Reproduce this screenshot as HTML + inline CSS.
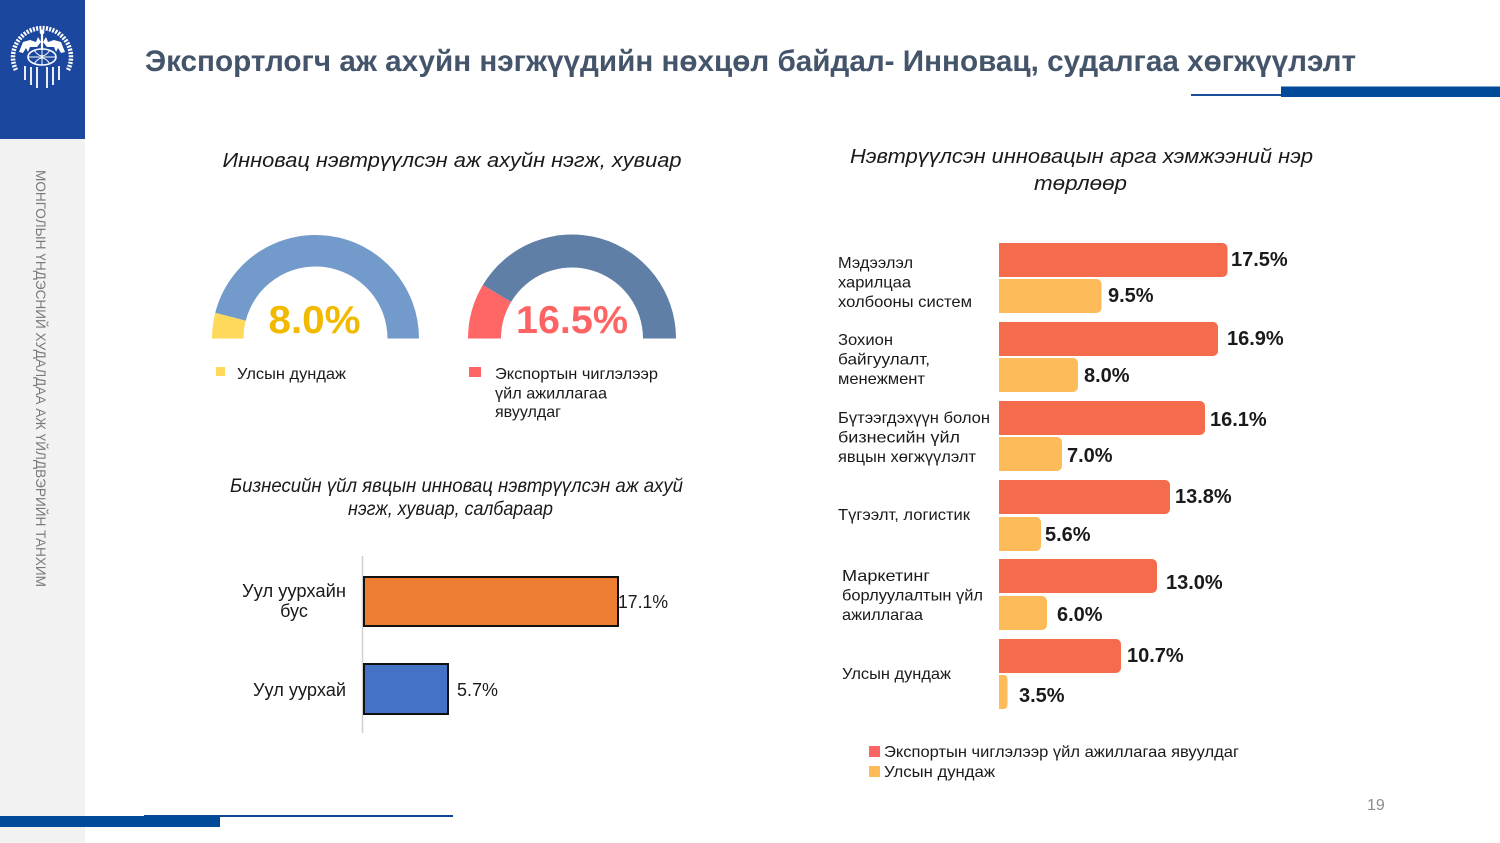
<!DOCTYPE html>
<html>
<head>
<meta charset="utf-8">
<style>
  html,body{margin:0;padding:0;background:#fff;}
  svg{display:block;}
  text{font-family:"Liberation Sans","DejaVu Sans",sans-serif;}
</style>
</head>
<body>
<svg width="1500" height="843" viewBox="0 0 1500 843" xmlns="http://www.w3.org/2000/svg">
  <rect x="0" y="0" width="1500" height="843" fill="#ffffff"/>

  <!-- Sidebar -->
  <rect x="0" y="139" width="85" height="704" fill="#f2f2f2"/>
  <rect x="0" y="0" width="85" height="139" fill="#1b479e"/>

  <!-- Logo emblem (approximation) -->
  <g fill="none" stroke="#ffffff">
    <path d="M16,70 A29,29 0 1 1 68,70" stroke-width="4.5" stroke-dasharray="2 1.3"/>
    <ellipse cx="42" cy="57" rx="14" ry="8" stroke-width="1.6"/>
    <line x1="28" y1="57" x2="56" y2="57" stroke-width="1"/>
    <line x1="42" y1="49" x2="42" y2="65" stroke-width="1"/>
    <path d="M34,50 Q42,62 50,50" stroke-width="1"/>
    <path d="M34,64 Q42,52 50,64" stroke-width="1"/>
    <line x1="42" y1="30" x2="42" y2="50" stroke-width="2.2"/>
    <g stroke-width="1.8">
      <line x1="25" y1="66" x2="25" y2="80"/>
      <line x1="31" y1="67" x2="31" y2="85"/>
      <line x1="37" y1="67" x2="37" y2="88"/>
      <line x1="47" y1="67" x2="47" y2="88"/>
      <line x1="53" y1="67" x2="53" y2="85"/>
      <line x1="59" y1="66" x2="59" y2="80"/>
    </g>
  </g>
  <g fill="#ffffff">
    <path d="M19,52 L23,42 L30,40 L36,42 L38,37 L41,42 L37,47 L30,47 L28,52 L26,48 L23,53 Z"/>
    <path d="M65,52 L61,42 L54,40 L48,42 L46,37 L43,42 L47,47 L54,47 L56,52 L58,48 L61,53 Z"/>
    <circle cx="42" cy="32" r="2.4"/>
  </g>

  <!-- Vertical sidebar text -->
  <text transform="translate(36,170) rotate(90)" font-size="14" fill="#7a7a7a" textLength="417" lengthAdjust="spacingAndGlyphs">МОНГОЛЫН ҮНДЭСНИЙ ХУДАЛДАА АЖ ҮЙЛДВЭРИЙН ТАНХИМ</text>

  <!-- Main title -->
  <text x="145" y="71" font-size="30" font-weight="bold" fill="#44546a" textLength="1211" lengthAdjust="spacingAndGlyphs">Экспортлогч аж ахуйн нэгжүүдийн нөхцөл байдал- Инновац, судалгаа хөгжүүлэлт</text>

  <!-- Top right decoration -->
  <rect x="1191" y="94" width="92" height="2" fill="#1b4f9c"/>
  <rect x="1281" y="86.5" width="219" height="10.5" fill="#004a99"/>

  <!-- Bottom decoration -->
  <rect x="144" y="815" width="309" height="2" fill="#0a4795"/>
  <rect x="0" y="816" width="220" height="11" fill="#004a99"/>

  <!-- Chart 1 title -->
  <text x="222.5" y="167" font-size="20.5" font-style="italic" fill="#1a1a1a" textLength="459" lengthAdjust="spacingAndGlyphs">Инновац нэвтрүүлсэн аж ахуйн нэгж, хувиар</text>

  <!-- Left gauge -->
  <path d="M212,338.5 A103.5,103.5 0 0 1 215.25,312.76 L245.76,320.59 A72,72 0 0 0 243.5,338.5 Z" fill="#fed95b"/>
  <path d="M215.25,312.76 A103.5,103.5 0 0 1 419,338.5 L387.5,338.5 A72,72 0 0 0 245.76,320.59 Z" fill="#729acb"/>
  <text x="268.5" y="333" font-size="39" font-weight="bold" fill="#f1b900" textLength="92" lengthAdjust="spacingAndGlyphs">8.0%</text>

  <!-- Right gauge -->
  <path d="M468,338.5 A104,104 0 0 1 482.85,284.94 L511.14,301.93 A71,71 0 0 0 501,338.5 Z" fill="#ff6666"/>
  <path d="M482.85,284.94 A104,104 0 0 1 676,338.5 L643,338.5 A71,71 0 0 0 511.14,301.93 Z" fill="#5f7fa6"/>
  <text x="516" y="333" font-size="39" font-weight="bold" fill="#fe6464" textLength="112" lengthAdjust="spacingAndGlyphs">16.5%</text>

  <!-- Gauge legends -->
  <rect x="216" y="367" width="9" height="9" fill="#fed95b"/>
  <text x="237" y="379" font-size="16" fill="#1a1a1a" textLength="109" lengthAdjust="spacingAndGlyphs">Улсын дундаж</text>
  <rect x="469" y="367" width="12" height="10" fill="#ff6464"/>
  <text x="495" y="379" font-size="16" fill="#1a1a1a" textLength="163" lengthAdjust="spacingAndGlyphs">Экспортын чиглэлээр</text>
  <text x="495" y="398.5" font-size="16" fill="#1a1a1a" textLength="112" lengthAdjust="spacingAndGlyphs">үйл ажиллагаа</text>
  <text x="495" y="417" font-size="16" fill="#1a1a1a" textLength="66" lengthAdjust="spacingAndGlyphs">явуулдаг</text>

  <!-- Chart 2 title -->
  <text x="230" y="492" font-size="19" font-style="italic" fill="#1a1a1a" textLength="453" lengthAdjust="spacingAndGlyphs">Бизнесийн үйл явцын инновац нэвтрүүлсэн аж ахуй</text>
  <text x="348" y="515" font-size="19" font-style="italic" fill="#1a1a1a" textLength="205" lengthAdjust="spacingAndGlyphs">нэгж, хувиар, салбараар</text>

  <!-- Chart 2 bars -->
  <line x1="362.5" y1="556" x2="362.5" y2="733" stroke="#d0d0d0" stroke-width="1.5"/>
  <rect x="364" y="577" width="254" height="49" fill="#ed7d31" stroke="#111" stroke-width="2"/>
  <rect x="364" y="664" width="84" height="50" fill="#4472c4" stroke="#111" stroke-width="2"/>
  <text x="294" y="597" font-size="18" fill="#1a1a1a" text-anchor="middle" textLength="104" lengthAdjust="spacingAndGlyphs">Уул уурхайн</text>
  <text x="294" y="617" font-size="18" fill="#1a1a1a" text-anchor="middle">бус</text>
  <text x="346" y="696" font-size="18" fill="#1a1a1a" text-anchor="end" textLength="93" lengthAdjust="spacingAndGlyphs">Уул уурхай</text>
  <text x="618" y="608" font-size="18" fill="#1a1a1a" textLength="50" lengthAdjust="spacingAndGlyphs">17.1%</text>
  <text x="457" y="696" font-size="18" fill="#1a1a1a" textLength="41" lengthAdjust="spacingAndGlyphs">5.7%</text>

  <!-- Right chart title -->
  <text x="850" y="163" font-size="20.5" font-style="italic" fill="#1a1a1a" textLength="463" lengthAdjust="spacingAndGlyphs">Нэвтрүүлсэн инновацын арга хэмжээний нэр</text>
  <text x="1034" y="190" font-size="20.5" font-style="italic" fill="#1a1a1a" textLength="93" lengthAdjust="spacingAndGlyphs">төрлөөр</text>

  <!-- Right chart bars -->
  <g fill="#f46c4b">
    <rect x="999" y="243" width="228.5" height="34" rx="5"/><rect x="999" y="243" width="10" height="34"/>
    <rect x="999" y="322" width="219" height="34" rx="5"/><rect x="999" y="322" width="10" height="34"/>
    <rect x="999" y="401" width="206" height="34" rx="5"/><rect x="999" y="401" width="10" height="34"/>
    <rect x="999" y="480" width="171" height="34" rx="5"/><rect x="999" y="480" width="10" height="34"/>
    <rect x="999" y="559" width="158" height="34" rx="5"/><rect x="999" y="559" width="10" height="34"/>
    <rect x="999" y="639" width="122" height="34" rx="5"/><rect x="999" y="639" width="10" height="34"/>
  </g>
  <g fill="#fdbb59">
    <rect x="999" y="279" width="102.5" height="34" rx="5"/><rect x="999" y="279" width="10" height="34"/>
    <rect x="999" y="358" width="79" height="34" rx="5"/><rect x="999" y="358" width="10" height="34"/>
    <rect x="999" y="437" width="63" height="34" rx="5"/><rect x="999" y="437" width="10" height="34"/>
    <rect x="999" y="517" width="42" height="34" rx="5"/><rect x="999" y="517" width="10" height="34"/>
    <rect x="999" y="596" width="48" height="34" rx="5"/><rect x="999" y="596" width="10" height="34"/>
    <rect x="999" y="675" width="8.5" height="34" rx="4"/><rect x="999" y="675" width="4" height="34"/>
  </g>

  <!-- Right chart value labels -->
  <g font-size="20" font-weight="bold" fill="#1a1a1a">
    <text x="1231" y="266">17.5%</text>
    <text x="1108" y="302">9.5%</text>
    <text x="1227" y="345">16.9%</text>
    <text x="1084" y="382">8.0%</text>
    <text x="1210" y="426">16.1%</text>
    <text x="1067" y="462">7.0%</text>
    <text x="1175" y="503">13.8%</text>
    <text x="1045" y="541">5.6%</text>
    <text x="1166" y="589">13.0%</text>
    <text x="1057" y="621">6.0%</text>
    <text x="1127" y="662">10.7%</text>
    <text x="1019" y="702">3.5%</text>
  </g>

  <!-- Right chart category labels -->
  <g font-size="16" fill="#1a1a1a">
    <text x="838" y="268" textLength="75" lengthAdjust="spacingAndGlyphs">Мэдээлэл</text>
    <text x="838" y="287.5" textLength="73" lengthAdjust="spacingAndGlyphs">харилцаа</text>
    <text x="838" y="307" textLength="134" lengthAdjust="spacingAndGlyphs">холбооны систем</text>
    <text x="838" y="345" textLength="55" lengthAdjust="spacingAndGlyphs">Зохион</text>
    <text x="838" y="364.5" textLength="92" lengthAdjust="spacingAndGlyphs">байгуулалт,</text>
    <text x="838" y="384" textLength="87" lengthAdjust="spacingAndGlyphs">менежмент</text>
    <text x="838" y="423" textLength="152" lengthAdjust="spacingAndGlyphs">Бүтээгдэхүүн болон</text>
    <text x="838" y="442.5" textLength="122" lengthAdjust="spacingAndGlyphs">бизнесийн үйл</text>
    <text x="838" y="462" textLength="138" lengthAdjust="spacingAndGlyphs">явцын хөгжүүлэлт</text>
    <text x="838" y="520" textLength="132" lengthAdjust="spacingAndGlyphs">Түгээлт, логистик</text>
    <text x="842" y="581" textLength="88" lengthAdjust="spacingAndGlyphs">Маркетинг</text>
    <text x="842" y="600.5" textLength="141" lengthAdjust="spacingAndGlyphs">борлуулалтын үйл</text>
    <text x="842" y="620" textLength="81" lengthAdjust="spacingAndGlyphs">ажиллагаа</text>
    <text x="842" y="679" textLength="109" lengthAdjust="spacingAndGlyphs">Улсын дундаж</text>
  </g>

  <!-- Right chart legend -->
  <rect x="869" y="746" width="11" height="11" fill="#ff6464"/>
  <text x="884" y="757" font-size="16" fill="#1a1a1a" textLength="355" lengthAdjust="spacingAndGlyphs">Экспортын чиглэлээр үйл ажиллагаа явуулдаг</text>
  <rect x="869" y="766" width="11" height="11" fill="#ffbb55"/>
  <text x="884" y="777" font-size="16" fill="#1a1a1a" textLength="111" lengthAdjust="spacingAndGlyphs">Улсын дундаж</text>

  <!-- Page number -->
  <text x="1367" y="810" font-size="16" fill="#8c8c8c">19</text>
</svg>
</body>
</html>
